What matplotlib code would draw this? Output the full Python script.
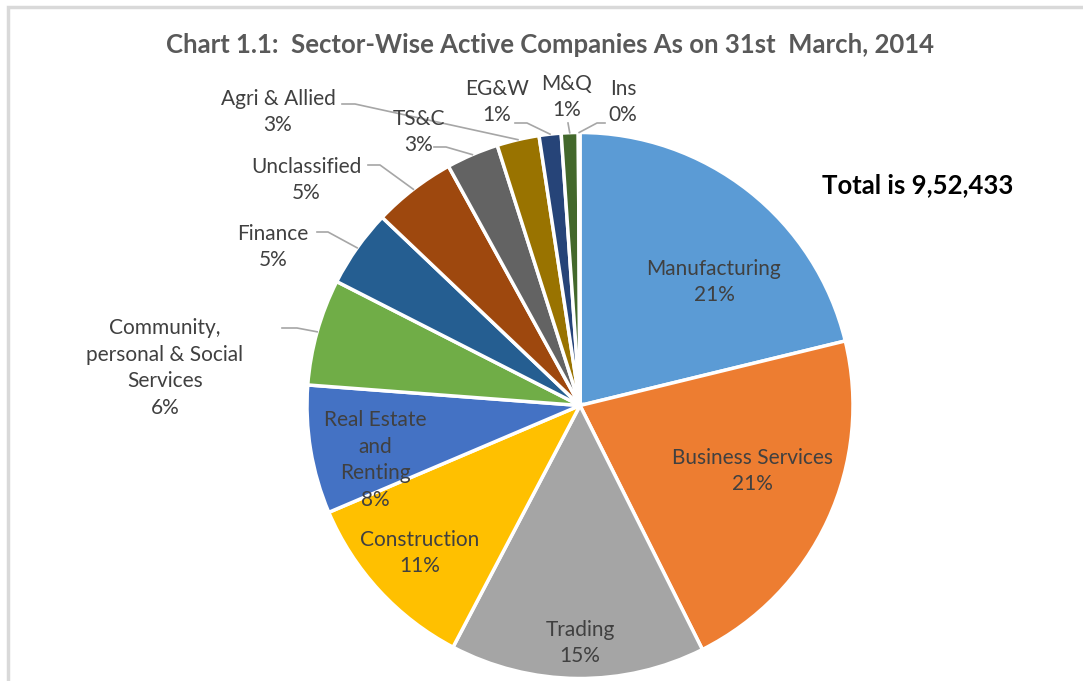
import numpy as np
import matplotlib
matplotlib.use("Agg")
import matplotlib.pyplot as plt
from matplotlib.patches import Rectangle

# sector shares (%), clockwise from 12 o'clock
sectors = ["Manufacturing", "Business Services", "Trading", "Construction",
           "Real Estate and Renting", "Community, personal & Social Services",
           "Finance", "Unclassified", "TS&C", "Agri & Allied", "EG&W", "M&Q", "Ins"]
shares = [21.2, 21.4, 15.1, 10.9, 7.6, 6.3, 4.6, 4.9, 3.1, 2.5, 1.3, 1.0, 0.1]
label_text = ["Manufacturing\n21%", "Business Services\n21%", "Trading\n15%",
              "Construction\n11%", "Real Estate\nand\nRenting\n8%",
              "Community,\npersonal & Social\nServices\n6%", "Finance\n5%",
              "Unclassified\n5%", "TS&C\n3%", "Agri & Allied\n3%", "EG&W\n1%",
              "M&Q\n1%", "Ins\n0%"]
colors = ["#5B9BD5", "#ED7D31", "#A5A5A5", "#FFC000", "#4472C4", "#70AD47",
          "#255E91", "#9E480E", "#636363", "#997300", "#264478", "#43682B", "#7CAFDD"]
title = "Chart 1.1:  Sector-Wise Active Companies As on 31st  March, 2014"
total_note = "Total is 9,52,433"

W, H = 1083, 681
plt.rcParams['font.family'] = ['Lato', 'DejaVu Sans']

fig = plt.figure(figsize=(W / 100, H / 100), dpi=100)
ax = fig.add_axes([0, 0, 1, 1])

def py(y):
    return H - y

cx, cy, r = 580, py(405.5), 273

wedges, _ = ax.pie(shares, colors=colors, startangle=90, counterclock=False,
                   center=(cx, cy), radius=r, frame=True,
                   wedgeprops=dict(edgecolor="white", linewidth=2.5))
ax.set_xlim(0, W)
ax.set_ylim(0, H)
ax.axis("off")
ax.set_aspect("equal")

# label block centres (pixel coords)
label_pos = [(714, 282), (752, 471), (580, 643), (420, 553), (375, 460),
             (165, 368), (273, 247), (306, 180), (419, 132), (278, 112),
             (497, 102), (567, 97), (623, 102)]
# leader line start points (pixel coords), None for inside labels
leader_start = [None, None, None, None, None,
                [(282, 328), (297, 328)], [(317, 232), (328, 232)],
                [(368, 165), (380, 165)], [(434, 147), (446, 147)],
                [(342, 104), (355, 104)], [(515, 123), (527, 123)],
                [(568, 123)], [(605, 123), (597, 123)]]

for w, txt, pos, ls in zip(wedges, label_text, label_pos, leader_start):
    ax.text(pos[0], py(pos[1]), txt, ha="center", va="center", fontsize=15,
            color="#404040", linespacing=1.4)
    if ls is not None:
        mid = np.deg2rad((w.theta1 + w.theta2) / 2)
        ex = cx + r * np.cos(mid)
        ey = cy + r * np.sin(mid)
        xs = [p[0] for p in ls] + [ex]
        ys = [py(p[1]) for p in ls] + [ey]
        ax.plot(xs, ys, color="#A6A6A6", lw=1.2)

ax.text(550, py(45), title, ha="center", va="center", fontsize=18.5,
        fontweight="bold", color="#595959")
ax.text(918, py(185), total_note, ha="center", va="center", fontsize=18.5,
        fontweight="bold", color="black")

# chart area border
ax.add_patch(Rectangle((8, -20), W + 20, py(7) + 20, fill=False,
                       edgecolor="#D9D9D9", lw=2.5, clip_on=False))

fig.savefig("out.png", dpi=100)
